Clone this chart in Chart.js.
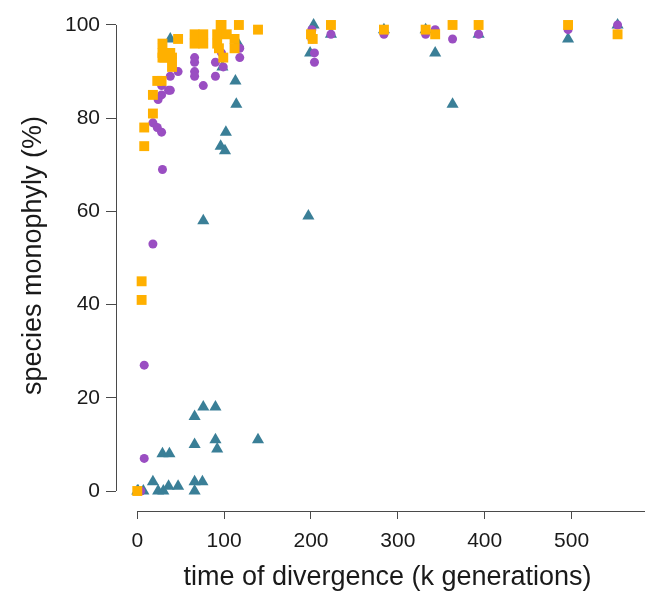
<!DOCTYPE html>
<html>
<head>
<meta charset="utf-8">
<script src="https://cdn.jsdelivr.net/npm/chart.js@4.4.0/dist/chart.umd.min.js"></script>
<style>
  html, body { margin: 0; padding: 0; overflow: hidden; background: #fff; }
  #plot { display: block; }
</style>
</head>
<body>
<canvas id="plot" width="659" height="594"></canvas>
<script>
// time of divergence (k generations) and % monophyly, one pair of arrays per series
const purpleTime = [4, 8, 8, 18, 29, 18, 23, 28, 24, 28, 36, 28, 38, 47, 38, 66, 66, 66, 66, 76, 76, 90, 90, 97, 99, 118, 118, 29, 40, 201, 201, 204, 204, 223, 284, 332, 343, 363, 393, 496, 553];
const purpleMono = [0, 7, 27, 53, 69, 79, 78, 77, 84, 85, 86, 87, 89, 90, 86, 93, 92, 90, 89, 87, 96, 92, 89, 94, 91, 95, 93, 96, 93, 99, 97, 94, 92, 98, 98, 98, 99, 97, 98, 99, 100];

const orangeTime = [0, 5, 5, 8, 8, 18, 18, 23, 28, 29, 29, 29, 38, 31, 40, 40, 47, 66, 76, 66, 76, 92, 92, 94, 96, 97, 103, 99, 112, 112, 117, 139, 200, 202, 223, 284, 332, 343, 363, 393, 496, 553];
const orangeMono = [0, 45, 41, 78, 74, 85, 81, 88, 88, 96, 94, 93, 94, 93, 93, 91, 97, 98, 98, 96, 96, 98, 96, 95, 100, 100, 98, 93, 97, 95, 100, 99, 98, 97, 100, 99, 99, 98, 100, 100, 100, 98];

const tealTime = [0, 1, 7, 18, 24, 30, 29, 37, 36, 47, 66, 75, 66, 66, 76, 90, 66, 90, 92, 139, 76, 197, 96, 101, 102, 114, 113, 98, 116, 38, 203, 199, 223, 284, 332, 343, 363, 393, 496, 553];
const tealMono = [0, 0, 0, 2, 0, 0, 8, 8, 1, 1, 2, 2, 0, 16, 18, 18, 10, 11, 9, 11, 58, 59, 74, 73, 77, 83, 88, 91, 96, 97, 100, 94, 98, 99, 99, 94, 83, 98, 97, 100];

const xTicks = [0, 100, 200, 300, 400, 500];
const yTicks = [0, 20, 40, 60, 80, 100];

const axisColor = '#4a4a4a';
const textColor = '#1a1a1a';
Chart.defaults.font.family = "'Liberation Sans', Arial, sans-serif";

function points(xs, ys) {
    return xs.map((t, i) => ({ x: t, y: ys[i] }));
}

function noPadding(s) {
    s.paddingTop = 0;
    s.paddingBottom = 0;
    s.paddingLeft = 0;
    s.paddingRight = 0;
}

// R style axes: y line only spans 0..100, x line starts at 0
const axisLines = {
    id: 'axisLines',
    afterDraw(chart) {
        const { ctx, chartArea, scales } = chart;
        const lx = Math.round(chartArea.left - 0.5) + 0.5;
        const by = Math.round(chartArea.bottom - 0.5) + 0.5;
        ctx.save();
        ctx.strokeStyle = axisColor;
        ctx.lineWidth = 1;
        ctx.beginPath();
        ctx.moveTo(lx, scales.y.getPixelForValue(yTicks[yTicks.length - 1]));
        ctx.lineTo(lx, scales.y.getPixelForValue(yTicks[0]));
        ctx.moveTo(scales.x.getPixelForValue(xTicks[0]), by);
        ctx.lineTo(chartArea.right, by);
        ctx.stroke();
        ctx.restore();
    }
};

const ctx = document.getElementById('plot').getContext('2d');
new Chart(ctx, {
    type: 'scatter',
    data: {
        datasets: [{
            data: points(orangeTime, orangeMono),
            pointStyle: 'rect',
            pointRadius: 7,
            backgroundColor: '#FFB000',
            borderWidth: 0,
            order: 0
        }, {
            data: points(purpleTime, purpleMono),
            pointStyle: 'circle',
            pointRadius: 4.5,
            backgroundColor: '#9A4EC2',
            borderWidth: 0,
            order: 1
        }, {
            data: points(tealTime, tealMono),
            pointStyle: 'triangle',
            pointRadius: 7,
            backgroundColor: '#3A7F97',
            borderWidth: 0,
            order: 2
        }]
    },
    options: {
        responsive: false,
        animation: false,
        layout: { padding: 0, autoPadding: false },
        clip: false,
        plugins: {
            legend: { display: false },
            tooltip: { enabled: false }
        },
        scales: {
            x: {
                type: 'linear',
                min: -24.5,
                max: 600.7,
                afterFit: s => { s.height = 83; noPadding(s); },
                afterBuildTicks: s => { s.ticks = xTicks.map(v => ({ value: v })); },
                grid: { display: true, drawOnChartArea: false, drawTicks: true, tickLength: 8, tickColor: axisColor },
                border: { display: false },
                ticks: { color: textColor, font: { size: 21 }, padding: 10, maxRotation: 0, autoSkip: false },
                title: {
                    display: true,
                    text: 'time of divergence (k generations)',
                    color: textColor,
                    font: { size: 27 },
                    padding: { top: 0, bottom: 0 }
                }
            },
            y: {
                type: 'linear',
                min: -4.29,
                max: 105.36,
                afterFit: s => { s.width = 116; noPadding(s); },
                afterBuildTicks: s => { s.ticks = yTicks.map(v => ({ value: v })); },
                grid: { display: true, drawOnChartArea: false, drawTicks: true, tickLength: 10, tickColor: axisColor },
                border: { display: false },
                ticks: { color: textColor, font: { size: 21 }, padding: 6, autoSkip: false },
                title: {
                    display: true,
                    text: 'species monophyly (%)',
                    color: textColor,
                    font: { size: 27 },
                    padding: { top: 17, bottom: 0 }
                }
            }
        }
    },
    plugins: [axisLines]
});
</script>
</body>
</html>
